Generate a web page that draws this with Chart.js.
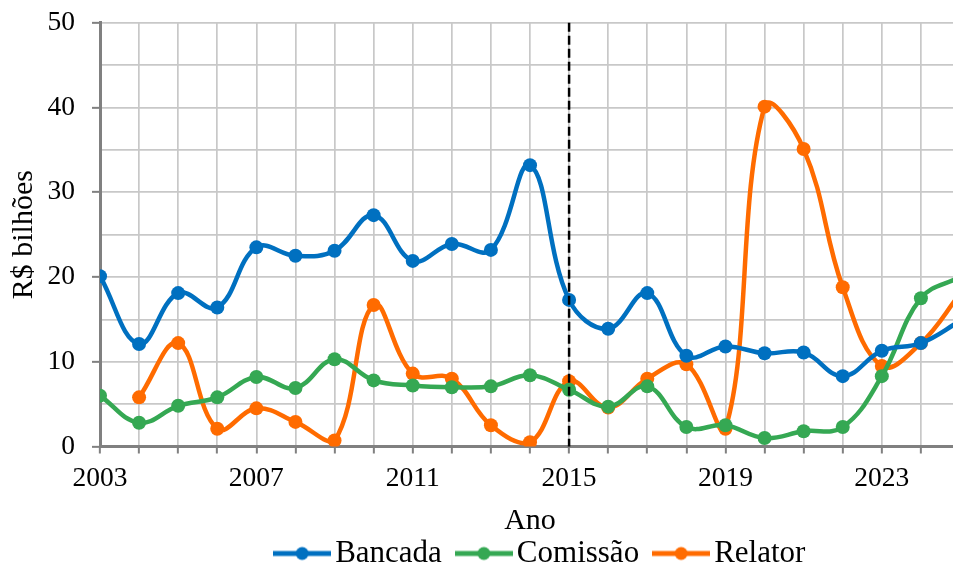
<!DOCTYPE html>
<html>
<head>
<meta charset="utf-8">
<script src="https://cdn.jsdelivr.net/npm/chart.js@4"></script>
<style>
  html, body { margin: 0; padding: 0; background: #fff; overflow: hidden; }
  #wrap { width: 980px; height: 579px; }
</style>
</head>
<body>
<div id="wrap"><canvas id="chart" width="980" height="579"></canvas></div>
<script>
// Dados (R$ bilhões por ano)
const years = [2003, 2004, 2005, 2006, 2007, 2008, 2009, 2010, 2011, 2012, 2013, 2014,
               2015, 2016, 2017, 2018, 2019, 2020, 2021, 2022, 2023, 2024, 2025];
const bancada  = [20.1, 12.1, 18.1, 16.4, 23.5, 22.5, 23.1, 27.3, 21.9, 23.9, 23.2, 33.2,
                  17.3, 13.9, 18.1, 10.7, 11.8, 11.0, 11.1, 8.3, 11.3, 12.2, 14.8];
const comissao = [6.0, 2.8, 4.8, 5.8, 8.2, 6.9, 10.3, 7.8, 7.2, 7.0, 7.1, 8.4,
                  6.7, 4.7, 7.1, 2.3, 2.5, 1.0, 1.8, 2.3, 8.3, 17.5, 20.0];
const relator  = [null, 5.8, 12.2, 2.1, 4.5, 2.9, 0.7, 16.7, 8.6, 8.0, 2.5, 0.5,
                  7.7, 4.6, 8.0, 9.7, 2.1, 40.1, 35.1, 18.8, 9.5, 12.2, 18.0];
const seriesNames = ['Bancada', 'Comissão', 'Relator'];
const seriesColors = ['#0070C0', '#35A853', '#FF6B00'];
const markerYear = 2015;   // linha tracejada
const tickEvery = 4;       // rótulos do eixo x a cada 4 anos

const FONT = "'Liberation Serif', 'Times New Roman', serif";

// ícone da legenda: linha + marcador
function legendIcon(color) {
    const c = document.createElement('canvas');
    c.width = 58; c.height = 16;
    const g = c.getContext('2d');
    g.strokeStyle = color; g.lineWidth = 5;
    g.beginPath(); g.moveTo(0, 8); g.lineTo(58, 8); g.stroke();
    g.fillStyle = color;
    g.beginPath(); g.arc(29, 8, 6.5, 0, Math.PI * 2); g.fill();
    return c;
}

function toPoints(arr) {
    return arr.map((v, i) => ({ x: years[i], y: v }));
}

const datasets = [bancada, comissao, relator].map((arr, i) => ({
    label: seriesNames[i],
    data: toPoints(arr),
    borderColor: seriesColors[i],
    backgroundColor: seriesColors[i],
    borderWidth: 4.5,
    pointRadius: 7,
    pointHoverRadius: 7,
    pointBorderWidth: 0,
    pointStyle: 'circle',
    legendIcon: legendIcon(seriesColors[i]),
    tension: 0.4,
    fill: false
}));

// linha vertical tracejada em 2015
const markerLine = {
    id: 'markerLine',
    afterDatasetsDraw(chart) {
        const x = chart.scales.x.getPixelForValue(markerYear);
        const { top, bottom } = chart.chartArea;
        const ctx = chart.ctx;
        ctx.save();
        ctx.strokeStyle = '#000';
        ctx.lineWidth = 2.5;
        ctx.setLineDash([9, 4]);
        ctx.beginPath();
        ctx.moveTo(x, top);
        ctx.lineTo(x, bottom);
        ctx.stroke();
        ctx.restore();
    }
};

// a legenda do original fica um pouco à direita do centro do gráfico
const legendNudge = {
    id: 'legendNudge',
    afterLayout(chart) {
        const lg = chart.legend;
        if (!lg) return;
        lg.left += 15;
        lg.right += 15;
    }
};

new Chart(document.getElementById('chart'), {
    type: 'line',
    data: { datasets },
    plugins: [markerLine, legendNudge],
    options: {
        responsive: false,
        animation: false,
        layout: { padding: { top: 0, right: 20, left: 0, bottom: 0 } },
        plugins: {
            tooltip: { enabled: false },
            legend: {
                position: 'bottom',
                fullSize: false,
                labels: {
                    usePointStyle: true,
                    pointStyleWidth: 35,
                    padding: 24.5,
                    color: '#000',
                    font: { family: FONT, size: 31 },
                    generateLabels(chart) {
                        return chart.data.datasets.map((d, i) => ({
                            text: d.label,
                            pointStyle: d.legendIcon,
                            fillStyle: d.borderColor,
                            strokeStyle: d.borderColor,
                            lineWidth: 0,
                            hidden: false,
                            datasetIndex: i
                        }));
                    }
                }
            }
        },
        scales: {
            x: {
                type: 'linear',
                min: years[0],
                max: years[years.length - 1],
                afterFit(scale) { scale.height = 67; },
                border: { color: '#808080', width: 3 },
                grid: {
                    color: '#c8c8c8',
                    lineWidth: 1.7,
                    tickColor: '#808080',
                    tickWidth: 2,
                    tickLength: 7
                },
                ticks: {
                    stepSize: 1,
                    autoSkip: false,
                    maxRotation: 0,
                    padding: 9,
                    color: '#000',
                    font: { family: FONT, size: 27.5 },
                    callback: v => ((v - years[0]) % tickEvery === 0 ? String(v) : '')
                },
                title: {
                    display: true,
                    text: 'Ano',
                    color: '#000',
                    font: { family: FONT, size: 30 },
                    padding: { top: 0, bottom: -26 }
                }
            },
            y: {
                min: 0,
                max: 50,
                afterFit(scale) { scale.width = 100; },
                border: { color: '#808080', width: 3 },
                grid: {
                    color: '#c8c8c8',
                    lineWidth: 1.7,
                    tickLength: 8,
                    tickWidth: 2,
                    tickColor: ctx => (ctx.tick && ctx.tick.value % 10 === 0 ? '#808080' : 'rgba(0,0,0,0)')
                },
                ticks: {
                    stepSize: 5,
                    padding: 17,
                    color: '#000',
                    font: { family: FONT, size: 27.5, lineHeight: 0.42 },
                    callback: v => (v % 10 === 0 ? String(v) : '')
                },
                title: {
                    display: true,
                    text: 'R$ bilhões',
                    color: '#000',
                    font: { family: FONT, size: 30 },
                    padding: { top: 6, bottom: 0 }
                }
            }
        }
    }
});
</script>
</body>
</html>
